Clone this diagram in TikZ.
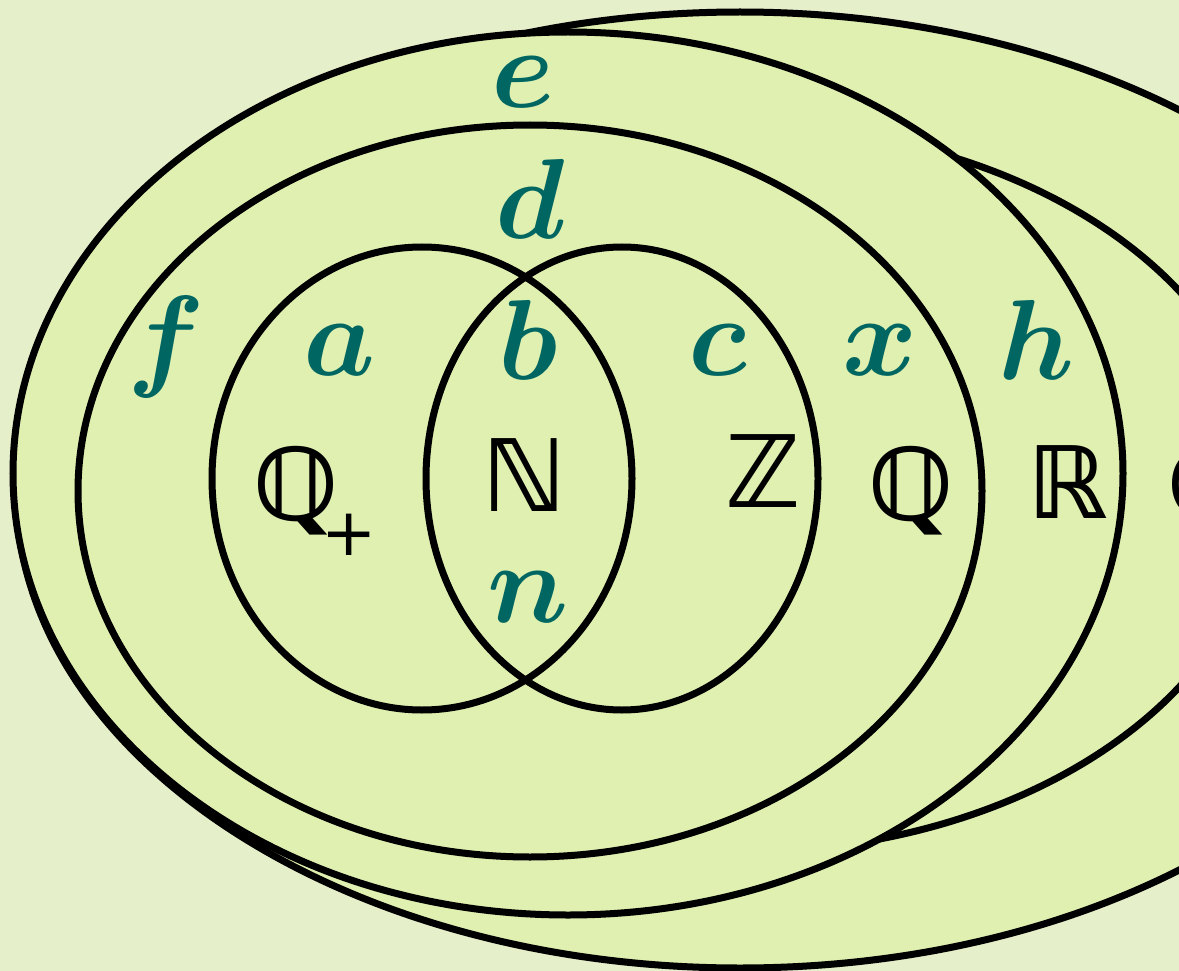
\documentclass[tikz,border=0pt]{standalone}
\usepackage{amsmath}
\usepackage{bm}
\usepackage{graphicx}
\usepackage{fontspec}
\newfontfamily\bbfont{DejaVu Sans Bold}
\newfontfamily\plusfont{DejaVu Sans}
\definecolor{bgcol}{RGB}{229,239,201}
\definecolor{setfill}{RGB}{224,240,176}
\definecolor{lblcol}{RGB}{0,102,98}
\newcommand{\biglbl}[1]{\scalebox{11.4}{$\bm{#1}$}}
\tikzset{
  setline/.style={line width=7pt, draw=black, fill=setfill},
  setedge/.style={line width=7pt, draw=black},
  lbl/.style={text=lblcol, inner sep=0pt},
  bb/.style={text=black, inner sep=0pt, anchor=base, font=\bbfont\fontsize{100}{100}\selectfont},
  bbsub/.style={text=black, inner sep=0pt, font=\plusfont\fontsize{66}{66}\selectfont}
}
\begin{document}
\begin{tikzpicture}[x=1pt,y=-1pt]
\useasboundingbox (0,0) rectangle (1179,971);
\fill[bgcol] (0,0) rectangle (1179,971);
\clip (0,0) rectangle (1179,971);
% outer set
\draw[setline] (740,490) ellipse [x radius=724pt, y radius=478pt];
% R set, mostly hidden
\draw[setline] (740,489) ellipse [x radius=524pt, y radius=363pt];
% e set
\draw[setline] (568,473.5) ellipse [x radius=555pt, y radius=441.5pt];
% d set
\draw[setline] (530,491) ellipse [x radius=452pt, y radius=366pt];
% Venn circles
\fill[setfill] (422,478.5) ellipse [x radius=210pt, y radius=231.5pt];
\fill[setfill] (622,478.5) ellipse [x radius=196pt, y radius=231.5pt];
\draw[setedge] (422,478.5) ellipse [x radius=210pt, y radius=231.5pt];
\draw[setedge] (622,478.5) ellipse [x radius=196pt, y radius=231.5pt];
% labels
\node[lbl] (le) at (523,82) {\biglbl{e}};
\node[lbl] (ld) at (530,199) {\biglbl{d}};
\node[lbl] (lf) at (166,347) {\biglbl{f}};
\node[lbl] (la) at (340,350) {\biglbl{a}};
\node[lbl] (lb) at (528,340) {\biglbl{b}};
\node[lbl] (lc) at (718,350) {\biglbl{c}};
\node[lbl] (lx) at (880,350) {\biglbl{x}};
\node[lbl] (lh) at (1037,340) {\biglbl{h}};
\node[lbl] (ln) at (528,597) {\biglbl{n}};
% number sets
\node[bb] (qp) at (296,520) {ℚ};
\node[bbsub] (plus) at (349,535) {+};
\node[bb] (nn) at (524,511) {ℕ};
\node[bb] (zz) at (763,507) {ℤ};
\node[bb] (qq) at (911,520) {ℚ};
\node[bb] (rr) at (1068,518) {ℝ};
\node[bb] (cc) at (1204,520) {ℂ};
\end{tikzpicture}
\end{document}
